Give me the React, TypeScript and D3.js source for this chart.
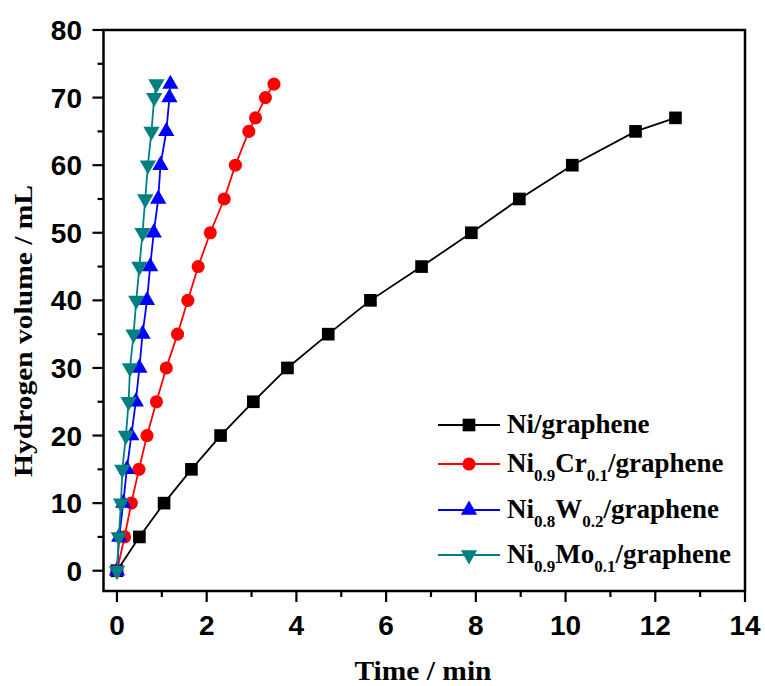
import React from 'react';
import * as d3 from 'd3';

// ---- data ----
const volNi = [0, 5, 10, 15, 20, 25, 30, 35, 40, 45, 50, 55, 60, 65, 67];
const timeNi = [0, 0.5, 1.05, 1.66, 2.31, 3.04, 3.8, 4.71, 5.65, 6.79, 7.9, 8.97, 10.15, 11.56, 12.45];

const volCr = [0, 5, 10, 15, 20, 25, 30, 35, 40, 45, 50, 55, 60, 65, 67, 70, 72];
const timeCr = [0, 0.17, 0.32, 0.49, 0.67, 0.88, 1.1, 1.35, 1.58, 1.81, 2.08, 2.39, 2.64, 2.94, 3.09, 3.31, 3.5];

const volW = [0, 5, 10, 15, 20, 25, 30, 35, 40, 45, 50, 55, 60, 65, 70, 72];
const timeW = [0, 0.05, 0.14, 0.22, 0.32, 0.42, 0.5, 0.57, 0.67, 0.74, 0.82, 0.92, 0.97, 1.1, 1.17, 1.19];

const volMo = [0, 5, 10, 15, 20, 25, 30, 35, 40, 45, 50, 55, 60, 65, 70, 72];
const timeMo = [0, 0.04, 0.09, 0.12, 0.2, 0.26, 0.29, 0.37, 0.43, 0.5, 0.57, 0.63, 0.69, 0.77, 0.83, 0.88];

const xMajorTicks = [0, 2, 4, 6, 8, 10, 12, 14];
const xMinorTicks = [1, 3, 5, 7, 9, 11, 13];
const yMajorTicks = [0, 10, 20, 30, 40, 50, 60, 70, 80];
const yMinorTicks = [5, 15, 25, 35, 45, 55, 65, 75];

const xTitle = 'Time / min';
const yTitle = 'Hydrogen volume / mL';

type Part = { t: string; sub?: boolean };
const legendLabels: Part[][] = [
  [{ t: 'Ni/graphene' }],
  [{ t: 'Ni' }, { t: '0.9', sub: true }, { t: 'Cr' }, { t: '0.1', sub: true }, { t: '/graphene' }],
  [{ t: 'Ni' }, { t: '0.8', sub: true }, { t: 'W' }, { t: '0.2', sub: true }, { t: '/graphene' }],
  [{ t: 'Ni' }, { t: '0.9', sub: true }, { t: 'Mo' }, { t: '0.1', sub: true }, { t: '/graphene' }],
];

const seriesColors = ['#000000', '#ff0000', '#0000ff', '#008080'];
const seriesSymbols = ['square', 'circle', 'triangle', 'triangleDown'];

const SERIES = [
  { t: timeNi, v: volNi },
  { t: timeCr, v: volCr },
  { t: timeW, v: volW },
  { t: timeMo, v: volMo },
];

const legendRowY = [425, 464, 510, 555];

function symbolPath(kind: string): { d: string; rot: number } {
  if (kind === 'square') return { d: d3.symbol(d3.symbolSquare, 160)() as string, rot: 0 };
  if (kind === 'circle') return { d: d3.symbol(d3.symbolCircle, 135)() as string, rot: 0 };
  if (kind === 'triangle') return { d: d3.symbol(d3.symbolTriangle, 115)() as string, rot: 0 };
  return { d: d3.symbol(d3.symbolTriangle, 115)() as string, rot: 180 };
}

export default function App() {
  const W = 765;
  const H = 686;
  const left = 103.5, right = 745, top = 30, bottom = 591;
  const x = d3.scaleLinear().domain([-0.3, 14]).range([left, right]);
  const y = d3.scaleLinear().domain([-3, 80]).range([bottom, top]);

  const tickFont = '"Liberation Sans", Arial, sans-serif';
  const serif = '"Liberation Serif", "Times New Roman", serif';

  return (
    <svg width={W} height={H} style={{ position: 'absolute', left: 0, top: 0, background: '#fff' }}>
      <rect x={0} y={0} width={W} height={H} fill="#fff" />
      {/* series */}
      {SERIES.map((s, i) => {
        const pts: [number, number][] = s.t.map((tv, k) => [tv, s.v[k]]);
        const line = d3.line<[number, number]>().x(d => x(d[0])).y(d => y(d[1]));
        const sym = symbolPath(seriesSymbols[i]);
        return (
          <g key={i}>
            <path d={line(pts) as string} fill="none" stroke={seriesColors[i]} strokeWidth={1.8} />
            {pts.map((p, k) => (
              <path key={k} d={sym.d} fill={seriesColors[i]}
                transform={`translate(${x(p[0])},${y(p[1])}) rotate(${sym.rot})`} />
            ))}
          </g>
        );
      })}

      {/* frame */}
      <rect x={left} y={top} width={right - left} height={bottom - top} fill="none" stroke="#000" strokeWidth={2.5} />

      {/* x ticks */}
      {xMajorTicks.map(t => (
        <g key={'xm' + t}>
          <line x1={x(t)} x2={x(t)} y1={bottom} y2={bottom + 11} stroke="#000" strokeWidth={2.2} />
          <text x={x(t)} y={635} textAnchor="middle" fontFamily={tickFont} fontWeight="bold" fontSize={28}>{t}</text>
        </g>
      ))}
      {xMinorTicks.map(t => (
        <line key={'xn' + t} x1={x(t)} x2={x(t)} y1={bottom} y2={bottom + 6} stroke="#000" strokeWidth={2.2} />
      ))}

      {/* y ticks */}
      {yMajorTicks.map(t => (
        <g key={'ym' + t}>
          <line x1={left - 11} x2={left} y1={y(t)} y2={y(t)} stroke="#000" strokeWidth={2.2} />
          <text x={82} y={y(t)} dy="0.36em" textAnchor="end" fontFamily={tickFont} fontWeight="bold" fontSize={28}>{t}</text>
        </g>
      ))}
      {yMinorTicks.map(t => (
        <line key={'yn' + t} x1={left - 6} x2={left} y1={y(t)} y2={y(t)} stroke="#000" strokeWidth={2.2} />
      ))}

      {/* axis titles */}
      <text x={423} y={680} textAnchor="middle" fontFamily={serif} fontWeight="bold" fontSize={27}
        textLength={137} lengthAdjust="spacingAndGlyphs">{xTitle}</text>
      <text transform="translate(32,331) rotate(-90)" textAnchor="middle" fontFamily={serif} fontWeight="bold"
        fontSize={25} textLength={292} lengthAdjust="spacingAndGlyphs">{yTitle}</text>

      {/* legend */}
      {legendLabels.map((parts, i) => {
        const ly = legendRowY[i];
        const sym = symbolPath(seriesSymbols[i]);
        return (
          <g key={'lg' + i}>
            <line x1={438} x2={500} y1={ly} y2={ly} stroke={seriesColors[i]} strokeWidth={1.8} />
            <path d={sym.d} fill={seriesColors[i]} transform={`translate(469,${ly}) rotate(${sym.rot})`} />
            <text x={507} y={ly + 8} fontFamily={serif} fontWeight="bold" fontSize={27}>
              {parts.map((p, k) => {
                const prevSub = k > 0 && parts[k - 1].sub;
                const dy = p.sub ? 9 : prevSub ? -9 : 0;
                return (
                  <tspan key={k} dy={dy} fontSize={p.sub ? 17 : 27}>{p.t}</tspan>
                );
              })}
            </text>
          </g>
        );
      })}
    </svg>
  );
}
